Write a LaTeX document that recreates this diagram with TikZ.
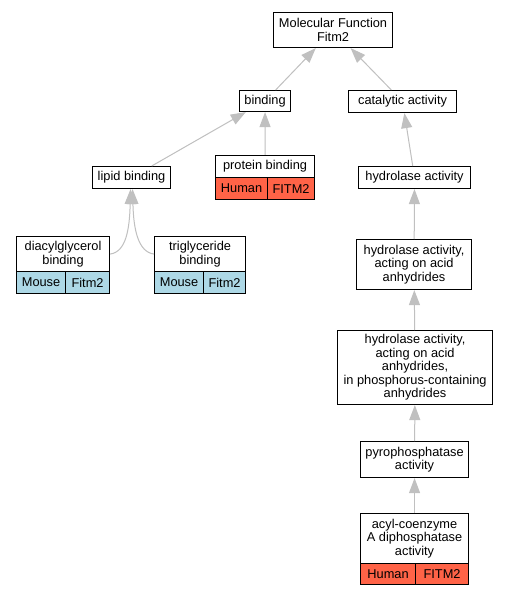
\documentclass[tikz,border=0pt]{standalone}
\usepackage{fontspec}
\setmainfont{Liberation Sans}
\usetikzlibrary{arrows.meta}
\definecolor{edgegray}{HTML}{C0C0C0}
\definecolor{tomatoc}{HTML}{FF6347}
\definecolor{lblue}{HTML}{ADD8E6}
\begin{document}
\begin{tikzpicture}[x=1bp,y=-1bp,
  every node/.style={font=\fontsize{12.8bp}{13.5bp}\selectfont},
  gobox/.style={draw=black, line width=1.1bp, fill=white, anchor=north west, inner sep=0pt, align=center},
  redcell/.style={gobox, fill=tomatoc},
  bluecell/.style={gobox, fill=lblue},
  isa/.style={draw=edgegray, line width=1bp, -{Triangle[length=15bp,width=11bp,fill=edgegray]}}
]
\useasboundingbox (0,0) rectangle (508,595);
\fill[white] (0,0) rectangle (508,595);
% nodes
\node[gobox, minimum width=119bp, minimum height=35bp] (mf) at (273,12) {Molecular Function\\Fitm2};
\node[gobox, minimum width=51bp, minimum height=21bp] (bind) at (239,90) {binding};
\node[gobox, minimum width=108bp, minimum height=22bp] (cat) at (348,90) {catalytic activity};
\node[gobox, minimum width=78bp, minimum height=22bp] (lipid) at (92,166) {lipid binding};
\node[gobox, minimum width=99bp, minimum height=22bp] (prot) at (215,155) {protein binding};
\node[redcell, minimum width=52bp, minimum height=22bp] (protH) at (215,177) {Human};
\node[redcell, minimum width=47bp, minimum height=22bp] (protF) at (267,177) {FITM2};
\node[gobox, minimum width=112bp, minimum height=22bp] (hyd) at (358,166) {hydrolase activity};
\node[gobox, minimum width=93bp, minimum height=35bp] (diac) at (16,236) {diacylglycerol\\binding};
\node[bluecell, minimum width=49bp, minimum height=22bp] (diacM) at (16,271) {Mouse};
\node[bluecell, minimum width=44bp, minimum height=22bp] (diacF) at (65,271) {Fitm2};
\node[gobox, minimum width=91bp, minimum height=35bp] (trig) at (154,236) {triglyceride\\binding};
\node[bluecell, minimum width=49bp, minimum height=22bp] (trigM) at (154,271) {Mouse};
\node[bluecell, minimum width=42bp, minimum height=22bp] (trigF) at (203,271) {Fitm2};
\node[gobox, minimum width=115bp, minimum height=50bp] (hyd2) at (356,239) {hydrolase activity,\\acting on acid\\anhydrides};
\node[gobox, minimum width=155bp, minimum height=74bp] (hyd3) at (337,330) {hydrolase activity,\\acting on acid\\anhydrides,\\in phosphorus-containing\\anhydrides};
\node[gobox, minimum width=108bp, minimum height=36bp] (pyro) at (360,441) {pyrophosphatase\\activity};
\node[gobox, minimum width=108bp, minimum height=50bp] (acyl) at (360,513) {acyl-coenzyme\\A diphosphatase\\activity};
\node[redcell, minimum width=55bp, minimum height=21bp] (acylH) at (360,563) {Human};
\node[redcell, minimum width=53bp, minimum height=21bp] (acylF) at (415,563) {FITM2};
% edges
\draw[isa] (bind) -- (mf);
\draw[isa] (cat) -- (mf);
\draw[isa] (lipid) -- (bind);
\draw[isa] (prot) -- (bind);
\draw[isa] (hyd) -- (cat);
\draw[isa] (hyd2) -- (hyd);
\draw[isa] (hyd3) -- (hyd2);
\draw[isa] (pyro) -- (hyd3);
\draw[isa] (acyl) -- (pyro);
\draw[isa] (diac.east) .. controls +(16,-2) and +(-1,40) .. ([xshift=-1bp]lipid.south);
\draw[isa] (trig.west) .. controls +(-16,-2) and +(1,40) .. ([xshift=1bp]lipid.south);
\end{tikzpicture}
\end{document}
